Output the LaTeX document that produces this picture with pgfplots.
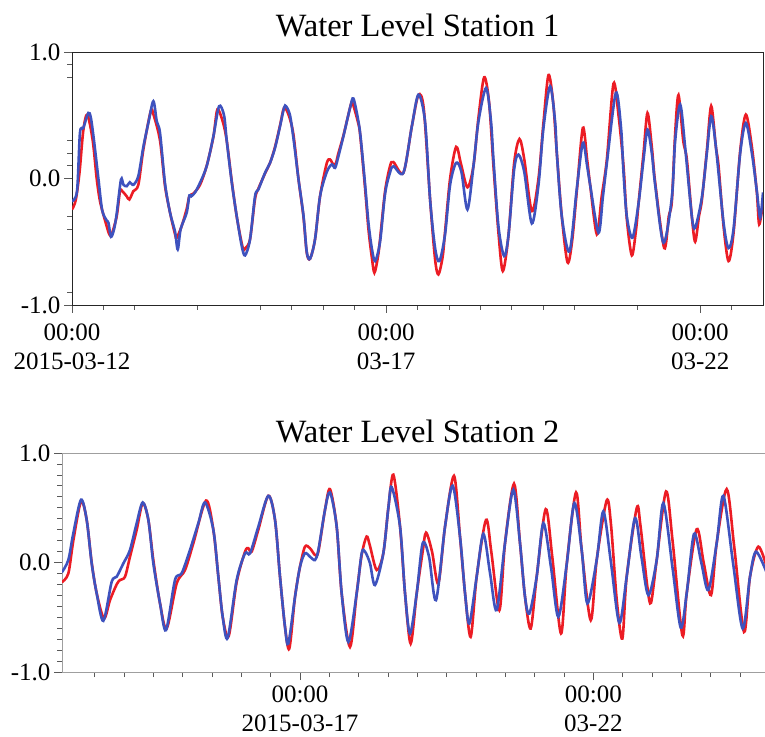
\documentclass[border=0pt]{standalone}
\usepackage{fontspec}
\setmainfont{Liberation Serif}
\usepackage{pgfplots}
\usepackage{pgfplotstable}
\pgfplotsset{compat=1.18}

\definecolor{wlred}{RGB}{236,28,36}
\definecolor{wlblue}{RGB}{62,82,190}

% x = days after 2015-03-12 00:00, y = water level
\pgfplotstableread{
day lvl
0 -0.245
0.06 -0.17
0.12 0.05
0.18 0.38
0.244 0.505
0.33 0.30
0.393 0.0
0.446 -0.18
0.525 -0.33
0.594 -0.442
0.632 -0.44
0.711 -0.30
0.764 -0.10
0.80 -0.10
0.87 -0.14
0.913 -0.166
0.977 -0.10
1.056 -0.05
1.136 0.23
1.253 0.532
1.30 0.50
1.401 0.30
1.481 -0.06
1.561 -0.27
1.640 -0.44
1.667 -0.468
1.746 -0.376
1.826 -0.24
1.868 -0.14
1.93 -0.12
2.038 -0.05
2.144 0.10
2.251 0.33
2.314 0.545
2.40 0.45
2.463 0.30
2.543 -0.02
2.622 -0.30
2.718 -0.547
2.76 -0.55
2.834 -0.48
2.914 -0.16
2.967 -0.08
3.073 0.04
3.153 0.124
3.232 0.25
3.312 0.42
3.376 0.558
3.45 0.50
3.524 0.35
3.604 0.0
3.684 -0.30
3.737 -0.587
3.790 -0.634
3.869 -0.48
3.949 -0.139
4.055 0.12
4.108 0.15
4.160 0.11
4.20 0.12
4.241 0.20
4.321 0.34
4.427 0.56
4.464 0.597
4.55 0.45
4.586 0.35
4.666 -0.08
4.719 -0.40
4.772 -0.62
4.814 -0.745
4.87 -0.62
4.904 -0.48
4.984 -0.10
5.064 0.10
5.117 0.13
5.276 0.045
5.409 0.41
5.515 0.66
5.60 0.55
5.701 -0.17
5.780 -0.64
5.833 -0.758
5.90 -0.62
5.939 -0.42
6.019 0.0
6.115 0.25
6.19 0.12
6.295 -0.07
6.391 0.10
6.470 0.48
6.561 0.80
6.64 0.60
6.709 0.10
6.789 -0.43
6.858 -0.732
6.948 -0.45
7.038 0.12
7.123 0.312
7.20 0.15
7.320 -0.258
7.426 0.0
7.505 0.44
7.585 0.818
7.66 0.60
7.718 0.20
7.797 -0.30
7.888 -0.663
7.96 -0.50
8.036 -0.10
8.132 0.40
8.20 0.15
8.248 -0.05
8.355 -0.442
8.43 -0.15
8.514 0.15
8.620 0.75
8.70 0.50
8.779 0.10
8.832 -0.32
8.912 -0.608
8.98 -0.40
9.018 -0.20
9.098 0.20
9.161 0.518
9.23 0.25
9.283 -0.03
9.427 -0.55
9.50 -0.30
9.549 -0.18
9.602 0.36
9.655 0.66
9.73 0.30
9.788 0.15
9.867 -0.30
9.920 -0.50
9.98 -0.30
10.027 -0.17
10.106 0.22
10.175 0.573
10.25 0.25
10.292 0.10
10.372 -0.377
10.451 -0.653
10.531 -0.43
10.637 0.22
10.727 0.505
10.823 0.25
10.902 -0.11
10.939 -0.363
11.0 -0.19
}\sonered

\pgfplotstableread{
day lvl
0 -0.179
0.08 -0.10
0.127 0.361
0.18 0.40
0.26 0.518
0.30 0.48
0.35 0.30
0.42 0.0
0.48 -0.25
0.55 -0.33
0.58 -0.35
0.621 -0.461
0.67 -0.40
0.711 -0.28
0.78 -0.008
0.82 -0.05
0.871 -0.061
0.92 -0.03
0.977 -0.05
1.056 0.02
1.136 0.25
1.22 0.45
1.295 0.611
1.35 0.45
1.401 0.361
1.481 -0.04
1.561 -0.271
1.640 -0.42
1.683 -0.561
1.73 -0.40
1.826 -0.27
1.868 -0.134
1.90 -0.14
1.959 -0.11
2.038 -0.034
2.144 0.097
2.251 0.334
2.341 0.571
2.42 0.50
2.463 0.30
2.543 -0.03
2.622 -0.297
2.702 -0.534
2.755 -0.608
2.834 -0.482
2.914 -0.139
2.967 -0.087
3.073 0.045
3.153 0.124
3.232 0.242
3.312 0.413
3.376 0.56
3.408 0.571
3.47 0.50
3.53 0.30
3.604 0.0
3.684 -0.29
3.737 -0.58
3.790 -0.634
3.869 -0.48
3.949 -0.139
4.055 0.05
4.135 0.111
4.188 0.084
4.241 0.176
4.321 0.334
4.427 0.56
4.480 0.632
4.56 0.45
4.60 0.30
4.666 -0.05
4.719 -0.35
4.772 -0.55
4.825 -0.653
4.904 -0.50
4.984 -0.12
5.064 0.05
5.117 0.097
5.276 0.045
5.409 0.41
5.515 0.663
5.62 0.45
5.701 -0.17
5.780 -0.55
5.849 -0.653
5.939 -0.44
6.019 -0.05
6.115 0.124
6.20 0.05
6.295 -0.245
6.391 0.10
6.470 0.45
6.592 0.716
6.67 0.45
6.709 0.15
6.789 -0.38
6.879 -0.613
6.948 -0.45
7.038 0.07
7.107 0.189
7.20 0.05
7.320 -0.355
7.426 -0.05
7.505 0.40
7.611 0.729
7.69 0.45
7.718 0.20
7.797 -0.30
7.920 -0.576
8.036 -0.08
8.132 0.282
8.20 0.10
8.248 -0.05
8.381 -0.429
8.45 -0.15
8.514 0.12
8.657 0.676
8.74 0.40
8.779 0.05
8.832 -0.30
8.922 -0.469
9.018 -0.20
9.098 0.15
9.161 0.387
9.23 0.20
9.283 -0.05
9.416 -0.508
9.549 -0.15
9.602 0.30
9.682 0.584
9.76 0.25
9.867 -0.30
9.920 -0.389
10.027 -0.15
10.106 0.20
10.175 0.492
10.25 0.25
10.372 -0.35
10.451 -0.55
10.531 -0.40
10.637 0.20
10.727 0.439
10.823 0.20
10.902 -0.10
10.955 -0.311
11.0 -0.11
}\soneblue

\pgfplotstableread{
day lvl
0.94 -0.18
1.051 -0.10
1.136 0.20
1.267 0.557
1.364 0.389
1.449 0.0
1.534 -0.28
1.659 -0.511
1.761 -0.344
1.875 -0.20
1.932 -0.16
2.017 -0.13
2.102 0.053
2.216 0.298
2.318 0.542
2.415 0.389
2.500 0.02
2.614 -0.374
2.727 -0.603
2.898 -0.191
3.040 -0.069
3.182 0.176
3.398 0.566
3.523 0.298
3.608 -0.13
3.682 -0.496
3.784 -0.673
3.920 -0.18
4.063 0.099
4.119 0.130
4.176 0.099
4.290 0.30
4.460 0.609
4.574 0.389
4.659 -0.13
4.744 -0.588
4.818 -0.786
4.915 -0.313
5.000 -0.038
5.085 0.145
5.170 0.130
5.256 0.069
5.313 0.10
5.426 0.481
5.511 0.670
5.625 0.328
5.710 -0.282
5.852 -0.771
5.966 -0.282
6.051 0.069
6.136 0.237
6.193 0.15
6.307 -0.069
6.420 0.084
6.506 0.50
6.591 0.802
6.705 0.328
6.790 -0.282
6.886 -0.740
6.989 -0.282
7.091 0.10
7.148 0.273
7.25 0.10
7.358 -0.191
7.472 0.328
7.625 0.792
7.727 0.237
7.813 -0.282
7.909 -0.679
8.011 -0.130
8.170 0.389
8.26 0.10
8.398 -0.435
8.494 0.176
8.648 0.719
8.750 0.176
8.835 -0.313
8.932 -0.603
9.034 -0.130
9.188 0.487
9.30 0.05
9.449 -0.649
9.545 -0.02
9.705 0.640
9.801 0.115
9.955 -0.527
10.057 0.023
10.227 0.566
10.30 0.35
10.40 -0.35
10.494 -0.695
10.568 -0.130
10.739 0.496
10.80 0.35
10.92 -0.22
10.983 -0.368
11.080 0.023
11.239 0.649
11.35 0.20
11.517 -0.664
11.591 -0.282
11.761 0.304
11.88 0.0
12.006 -0.298
12.102 0.176
12.273 0.670
12.40 0.15
12.568 -0.634
12.670 -0.130
12.812 0.145
12.96 -0.05
}\stwored

\pgfplotstableread{
day lvl
0.94 -0.09
1.051 0.023
1.136 0.267
1.267 0.573
1.364 0.389
1.449 -0.008
1.534 -0.282
1.648 -0.533
1.790 -0.176
1.875 -0.130
1.989 -0.008
2.102 0.115
2.216 0.359
2.318 0.548
2.415 0.389
2.500 -0.008
2.614 -0.374
2.716 -0.618
2.869 -0.160
2.983 -0.099
3.125 0.115
3.267 0.359
3.381 0.548
3.523 0.298
3.608 -0.130
3.682 -0.496
3.767 -0.689
3.920 -0.160
4.063 0.084
4.148 0.084
4.290 0.328
4.460 0.609
4.574 0.389
4.659 -0.130
4.744 -0.588
4.801 -0.740
4.915 -0.313
5.000 -0.038
5.085 0.084
5.170 0.053
5.256 0.023
5.313 0.115
5.426 0.481
5.511 0.640
5.625 0.328
5.710 -0.282
5.824 -0.725
5.966 -0.282
6.051 0.084
6.108 0.099
6.193 -0.008
6.278 -0.206
6.420 0.084
6.506 0.50
6.563 0.689
6.705 0.328
6.790 -0.282
6.875 -0.649
6.989 -0.282
7.091 0.176
7.20 0.05
7.318 -0.344
7.472 0.328
7.602 0.701
7.727 0.237
7.813 -0.282
7.886 -0.557
8.011 -0.130
8.125 0.261
8.24 -0.10
8.352 -0.435
8.494 0.176
8.636 0.664
8.750 0.176
8.835 -0.313
8.909 -0.466
9.034 -0.130
9.148 0.359
9.28 -0.05
9.403 -0.496
9.545 -0.02
9.676 0.542
9.801 0.115
9.898 -0.374
10.057 0.023
10.170 0.466
10.30 0.0
10.443 -0.551
10.568 -0.130
10.710 0.405
10.82 0.05
10.938 -0.298
11.080 0.023
11.193 0.542
11.35 -0.05
11.489 -0.594
11.591 -0.282
11.716 0.261
11.84 0.0
11.960 -0.252
12.102 0.176
12.216 0.609
12.38 0.0
12.545 -0.603
12.670 -0.130
12.773 0.099
12.96 -0.10
}\stwoblue

\pgfplotsset{wl/.style={
    scale only axis,
    anchor=south west,
    tick align=outside,
    xtick pos=bottom, ytick pos=left,
    major tick length=8pt, minor tick length=5pt,
    tick style={gray!70!black, line width=0.8pt},
    ymin=-1, ymax=1,
    ytick={-1,0,1}, yticklabels={-1.0,0.0,1.0},
    tick label style={font=\fontsize{25}{29.5}\selectfont},
    xticklabel style={align=center},
    title style={font=\fontsize{32.5}{36}\selectfont, anchor=base, at={(0.5,1)}},
    every axis plot/.append style={line width=2.6pt, smooth, tension=0.5},
}}

\begin{document}
\begin{tikzpicture}
\useasboundingbox (0,0) rectangle (765pt,736pt);

\begin{axis}[wl,
    at={(72pt,431pt)}, width=691pt, height=253pt,
    xmin=0, xmax=11,
    xtick={0,5,10},
    xticklabels={{00:00\\2015-03-12},{00:00\\03-17},{00:00\\03-22}},
    xticklabel style={yshift=-7pt},
    minor xtick={0.5,1,2,3,3.5,4,4.5,5.5,6,6.5,7,7.5,8,9,10.5},
    minor ytick={-0.9,-0.4,-0.3,0.1,0.2,0.3,0.8,0.9},
    axis line style={black!85, line width=0.9pt},
    title={Water Level Station 1},
    title style={yshift=9pt},
]
\addplot[wlred] table[x=day, y=lvl] {\sonered};
\addplot[wlblue] table[x=day, y=lvl] {\soneblue};
\end{axis}

\begin{axis}[wl,
    at={(62pt,64pt)}, width=705pt, height=219pt,
    xmin=0.943, xmax=12.96,
    xtick={5,10},
    xticklabels={{00:00\\2015-03-17},{00:00\\03-22}},
    xticklabel style={inner ysep=0.5pt, yshift=-5pt},
    minor xtick={1.5,2,...,12.5},
    minor ytick={-0.9,-0.8,...,0.9},
    axis line style={gray!75, line width=0.9pt},
    title={Water Level Station 2},
    title style={yshift=5pt, xshift=3pt},
]
\addplot[wlred] table[x=day, y=lvl] {\stwored};
\addplot[wlblue] table[x=day, y=lvl] {\stwoblue};
\end{axis}
\end{tikzpicture}
\end{document}
